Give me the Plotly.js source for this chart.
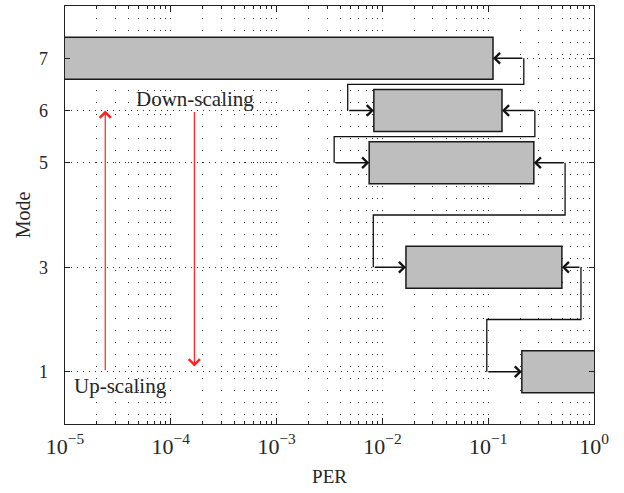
<!DOCTYPE html>
<html><head><meta charset="utf-8">
<script src="https://cdn.plot.ly/plotly-3.0.1.min.js"></script>
<style>html,body{margin:0;padding:0;background:#fff}#chart{width:624px;height:493px}</style>
</head><body><div id="chart"></div>
<script>
// ---- data ----
const modes = [7, 6, 5, 3, 1];
const perLow = [1e-6, 0.0083, 0.0075, 0.0167, 0.208];
const perHigh = [0.111, 0.135, 0.270, 0.497, 2];
// connectors (mode switching path)
const connFromMode = [7, 6, 5, 3];
const connToMode = [6, 5, 3, 1];
const connTurnRight = [0.217, 0.276, 0.533, 0.753];
const connTurnLeft = [0.0047, 0.0035, 0.0082, 0.097];
const connMid = [6.5, 5.5, 4, 2];
// scaling arrows
const upArrowPER = 2.4e-5, upArrowFrom = 1, upArrowTo = 6;
const downArrowPER = 1.67e-4, downArrowFrom = 6, downArrowTo = 1.1;
const xTickVals = [1e-5, 1e-4, 1e-3, 1e-2, 1e-1, 1];
const xTickText = ['10<sup>−5</sup>', '10<sup>−4</sup>', '10<sup>−3</sup>', '10<sup>−2</sup>', '10<sup>−1</sup>', '10<sup>0</sup>'];
const yTickVals = [1, 3, 5, 6, 7];

const FONT = 'Liberation Serif, Times New Roman, serif';
const TXT = '#262626';
const lg = v => Math.log10(v);
const idx = m => modes.indexOf(m);

const barTrace = {
  type: 'bar', orientation: 'h',
  y: modes,
  x: modes.map((m, i) => perHigh[i] - perLow[i]),
  base: perLow,
  width: 0.8,
  marker: {color: '#bebebe', line: {color: '#1a1a1a', width: 1.5}},
  hoverinfo: 'skip', cliponaxis: true
};

const cx = [], cy = [];
connFromMode.forEach((fm, i) => {
  const tm = connToMode[i];
  cx.push(connTurnRight[i], connTurnRight[i], connTurnLeft[i], connTurnLeft[i], null);
  cy.push(fm, connMid[i], connMid[i], tm, null);
});
const connTrace = {
  type: 'scatter', mode: 'lines', x: cx, y: cy,
  line: {color: '#111', width: 1.3}, hoverinfo: 'skip'
};

const ann = [];
const arrowBase = {axref: 'x', ayref: 'y', xref: 'x', yref: 'y', text: '', showarrow: true,
  arrowhead: 4, arrowsize: 1.6, arrowwidth: 1.3, arrowcolor: '#111', standoff: 0};
connFromMode.forEach((fm, i) => {
  const tm = connToMode[i];
  ann.push(Object.assign({}, arrowBase, {x: lg(perHigh[idx(fm)]), y: fm, ax: lg(connTurnRight[i]), ay: fm}));
  ann.push(Object.assign({}, arrowBase, {x: lg(perLow[idx(tm)]), y: tm, ax: lg(connTurnLeft[i]), ay: tm}));
});
ann.push(Object.assign({}, arrowBase, {arrowcolor: '#ff2020', arrowwidth: 1.2, arrowsize: 1.8,
  x: lg(upArrowPER), y: upArrowTo, ax: lg(upArrowPER), ay: upArrowFrom}));
ann.push(Object.assign({}, arrowBase, {arrowcolor: '#ff2020', arrowwidth: 1.2, arrowsize: 1.8,
  x: lg(downArrowPER), y: downArrowTo, ax: lg(downArrowPER), ay: downArrowFrom}));
ann.push({xref: 'x', yref: 'y', x: -3.77, y: 6.22, text: 'Down-scaling', showarrow: false,
  font: {family: FONT, size: 21, color: TXT}});
ann.push({xref: 'x', yref: 'y', x: -4.48, y: 0.72, text: 'Up-scaling', showarrow: false,
  font: {family: FONT, size: 21, color: TXT}});

const layout = {
  width: 624, height: 493,
  margin: {l: 65, r: 30, t: 6, b: 69},
  paper_bgcolor: '#fff', plot_bgcolor: '#fff',
  showlegend: false, hovermode: false,
  font: {family: FONT, color: TXT},
  xaxis: {
    type: 'log', range: [-5, 0], tickmode: 'array', tickvals: xTickVals, ticktext: xTickText,
    ticks: 'inside', ticklen: 6, tickwidth: 1, tickcolor: '#222', ticklabelstandoff: 2,
    showline: true, linecolor: '#222', linewidth: 1.3, mirror: 'ticks',
    showgrid: true, gridcolor: '#333', gridwidth: 1, griddash: '1px,11px', zeroline: false,
    minor: {dtick: 'D1', ticks: 'inside', ticklen: 3, tickcolor: '#222', showgrid: true,
      gridcolor: '#333', gridwidth: 1, griddash: '1px,11px'},
    tickfont: {family: FONT, size: 22, color: TXT},
    title: {text: 'PER', font: {family: FONT, size: 19, color: TXT}, standoff: 12}
  },
  yaxis: {
    range: [0, 8], tickmode: 'array', tickvals: yTickVals,
    ticks: 'inside', ticklen: 5, tickwidth: 1, tickcolor: '#222', ticklabelstandoff: 12,
    showline: true, linecolor: '#222', linewidth: 1.3, mirror: 'ticks',
    showgrid: true, gridcolor: '#333', gridwidth: 1, griddash: '1px,5px', zeroline: false,
    tickfont: {family: FONT, size: 18, color: TXT},
    title: {text: 'Mode', font: {family: FONT, size: 20, color: TXT}, standoff: 3}
  },
  annotations: ann
};

Plotly.newPlot('chart', [barTrace, connTrace], layout, {staticPlot: true, displayModeBar: false});
</script>
</body></html>
